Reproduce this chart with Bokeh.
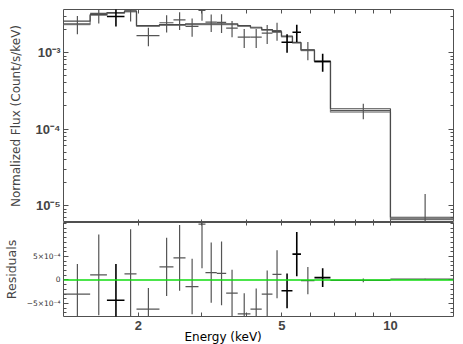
import numpy as np
from bokeh.plotting import figure
from bokeh.models import Range1d, FixedTicker, LogAxis, LinearAxis, Span, ColumnDataSource, Title
from bokeh.layouts import column
from bokeh.embed import file_html
from bokeh.resources import INLINE

# ---------------- data ----------------
e_lo = [1.239, 1.469, 1.635, 1.829, 1.975, 2.287, 2.501, 2.701, 2.934, 3.068, 3.298,
        3.502, 3.770, 4.090, 4.395, 4.707, 4.986, 5.348, 5.647, 6.155, 6.818, 10.0]
e_hi = [1.469, 1.635, 1.829, 1.975, 2.287, 2.501, 2.701, 2.934, 3.068, 3.298, 3.502,
        3.770, 4.090, 4.395, 4.707, 4.986, 5.348, 5.647, 6.155, 6.818, 10.0, 14.96]
flux = [2.37e-3, 3.25e-3, 2.95e-3, 3.50e-3, 1.66e-3, 2.45e-3, 2.67e-3, 2.20e-3, 3.54e-3,
        2.50e-3, 2.48e-3, 2.08e-3, 1.585e-3, 1.585e-3, 1.79e-3, 1.94e-3, 1.36e-3, 1.84e-3,
        1.08e-3, 7.62e-4, 1.74e-4, 6.7e-6]
flux_err = [6.4e-4, 8.6e-4, 7.7e-4, 9.5e-4, 4.5e-4, 6.2e-4, 7.0e-4, 5.9e-4, 9.4e-4, 6.4e-4,
            6.8e-4, 5.0e-4, 4.4e-4, 4.4e-4, 5.0e-4, 5.1e-4, 3.7e-4, 4.7e-4, 2.9e-4, 2.0e-4,
            4.0e-5, 7.5e-6]
resid = [-3.0e-4, 1.1e-4, -4.3e-4, 1.3e-4, -6.2e-4, 2.8e-4, 4.7e-4, -1.4e-4, 1.19e-3,
         1.55e-4, 1.4e-4, -2.8e-4, -7.2e-4, -6.2e-4, -3.0e-4, 1.2e-4, -2.3e-4, 5.5e-4,
         -1.5e-5, 5e-5, -1e-5, 2e-5]
dataset = [2, 2, 1, 2, 2, 2, 2, 2, 2, 2, 2, 2, 2, 2, 2, 2, 1, 1, 2, 1, 2, 2]
model_a = [2.565e-3, 3.14e-3, 3.33e-3, 3.49e-3, 2.25e-3, 2.32e-3, 2.32e-3, 2.37e-3, 2.37e-3,
           2.37e-3, 2.37e-3, 2.37e-3, 2.25e-3, 2.14e-3, 2.00e-3, 1.88e-3, 1.64e-3, 1.36e-3,
           1.085e-3, 7.74e-4, 1.84e-4, 7.03e-6]
model_b = [2.32e-3, 3.05e-3, 3.25e-3, 3.40e-3, 2.20e-3, 2.27e-3, 2.27e-3, 2.32e-3, 2.32e-3,
           2.32e-3, 2.32e-3, 2.32e-3, 2.20e-3, 2.09e-3, 1.95e-3, 1.84e-3, 1.60e-3, 1.33e-3,
           1.06e-3, 7.55e-4, 1.66e-4, 6.56e-6]

x_ticks = [2, 5, 10]
x_tick_labels = ["2", "5", "10"]
x_minor = [3, 4, 6, 7, 8, 9]
x_title = "Energy (keV)"
flux_ticks = [1e-5, 1e-4, 1e-3]
flux_tick_labels = ["10⁻⁵", "10⁻⁴", "10⁻³"]
res_ticks = [-5e-4, 0.0, 5e-4]
res_tick_labels = ["−5×10⁻⁴", "0", "5×10⁻⁴"]

# ---------------- derived columns ----------------
lo = np.array(e_lo); hi = np.array(e_hi)
f = np.array(flux); fe = np.array(flux_err); r = np.array(resid)
xc = (lo + hi) / 2
col = ["#000000" if d == 1 else "#555555" for d in dataset]
lw = [1.6 if d == 1 else 1.2 for d in dataset]
src = ColumnDataSource(dict(xc=xc, lo=lo, hi=hi, f=f, f0=np.maximum(f - fe, 1e-9), f1=f + fe,
                            r=r, r0=r - fe, r1=r + fe, col=col, lw=lw))
edges = list(e_lo) + [e_hi[-1]]
step_x = np.repeat(edges, 2)[1:-1]
step_a = np.repeat(model_a, 2)
step_b = np.repeat(model_b, 2)

FRAME = "#505050"
x_range = Range1d(1.239, 14.96)
y_minor = [k * 10.0 ** e for e in (-6, -5, -4, -3) for k in range(2, 10)]
r_minor = [k * 1e-4 for k in range(-7, 13) if k not in (-5, 0, 5)]


def tick_axis(cls, ticks, length):
    """axis that draws only inward ticks (no labels)"""
    ax = cls(ticker=FixedTicker(ticks=[], minor_ticks=list(ticks)))
    ax.minor_tick_in = length
    ax.minor_tick_out = 0
    ax.major_tick_in = 0
    ax.major_tick_out = 0
    ax.major_label_standoff = 0
    ax.axis_line_color = None
    ax.minor_tick_line_color = FRAME
    return ax


def style(axis, tin, minor_in):
    axis.major_tick_in = tin
    axis.major_tick_out = 0
    axis.minor_tick_in = minor_in
    axis.minor_tick_out = 0
    axis.axis_line_color = None
    axis.major_tick_line_color = FRAME
    axis.minor_tick_line_color = FRAME
    return axis


# ---------------- top panel ----------------
top = figure(x_axis_type="log", y_axis_type="log", x_range=x_range,
             y_range=Range1d(6.0e-6, 3.65e-3), frame_width=390, frame_height=213,
             min_border_left=57, min_border_right=6, min_border_top=9, min_border_bottom=0,
             x_axis_location=None, y_axis_location=None,
             output_backend="svg", toolbar_location=None)
top.grid.visible = False
top.outline_line_color = FRAME

ly = LogAxis(ticker=FixedTicker(ticks=flux_ticks, minor_ticks=y_minor),
             major_label_overrides=dict(zip(flux_ticks, flux_tick_labels)),
             axis_label="Normalized Flux (Count/s/keV)")
style(ly, 5, 3)
ly.major_label_text_font = "Liberation Sans"
ly.major_label_text_font_size = "13px"
ly.major_label_text_font_style = "bold"
ly.major_label_standoff = 3
ly.axis_label_text_font = "DejaVu Sans"
ly.axis_label_text_font_size = "12px"
ly.axis_label_text_font_style = "normal"
ly.axis_label_standoff = 10
top.add_layout(ly, "left")
top.add_layout(tick_axis(LogAxis, flux_ticks, 5), "right")
top.add_layout(tick_axis(LogAxis, y_minor, 3), "right")
top.add_layout(tick_axis(LogAxis, x_ticks + x_minor, 4), "above")
top.add_layout(tick_axis(LogAxis, x_ticks + x_minor, 3), "below")

top.line(step_x, step_b, line_color="#8c8c8c", line_width=1.3)
top.line(step_x, step_a, line_color="#4a4a4a", line_width=1.2)
top.segment(x0="lo", x1="hi", y0="f", y1="f", source=src, line_color="col", line_width="lw")
top.segment(x0="xc", x1="xc", y0="f0", y1="f1", source=src, line_color="col", line_width="lw")

# ---------------- residual panel ----------------
bot = figure(x_axis_type="log", x_range=x_range, y_range=Range1d(-7.77e-4, 1.223e-3),
             frame_width=390, frame_height=94,
             min_border_left=57, min_border_right=6, min_border_top=0, min_border_bottom=28,
             x_axis_location=None, y_axis_location=None,
             output_backend="svg", toolbar_location=None)
bot.grid.visible = False
bot.outline_line_color = FRAME

lr = LinearAxis(ticker=FixedTicker(ticks=res_ticks, minor_ticks=r_minor),
                major_label_overrides=dict(zip(res_ticks, res_tick_labels)),
                axis_label="Residuals")
style(lr, 5, 3)
lr.major_label_text_font = "DejaVu Sans"
lr.major_label_text_font_size = "7.5px"
lr.major_label_text_color = "#333333"
lr.major_label_standoff = 3
lr.axis_label_text_font = "DejaVu Sans"
lr.axis_label_text_font_size = "12.5px"
lr.axis_label_text_font_style = "normal"
lr.axis_label_standoff = 5
bot.add_layout(lr, "left")
bot.add_layout(tick_axis(LinearAxis, res_ticks, 5), "right")
bot.add_layout(tick_axis(LinearAxis, r_minor, 3), "right")
bot.add_layout(tick_axis(LogAxis, x_ticks + x_minor, 3), "above")

bx = LogAxis(ticker=FixedTicker(ticks=x_ticks, minor_ticks=x_minor),
             major_label_overrides=dict(zip(x_ticks, x_tick_labels)))
style(bx, 4, 4)
bx.major_label_text_font = "Liberation Sans"
bx.major_label_text_font_size = "13px"
bx.major_label_text_font_style = "bold"
bx.major_label_standoff = 4
bot.add_layout(bx, "below")

bot.add_layout(Title(text=x_title, align="left", offset=121, standoff=-10,
                     text_font="DejaVu Sans", text_font_size="12px",
                     text_font_style="normal", text_color="#000000"), "below")

bot.add_layout(Span(location=0, dimension="width", line_color="#11dd11", line_width=1.3))
bot.segment(x0="lo", x1="hi", y0="r", y1="r", source=src, line_color="col", line_width="lw")
bot.segment(x0="xc", x1="xc", y0="r0", y1="r1", source=src, line_color="col", line_width="lw")

layout = column(top, bot, spacing=0)
open("out.html", "w").write(file_html(layout, INLINE))
